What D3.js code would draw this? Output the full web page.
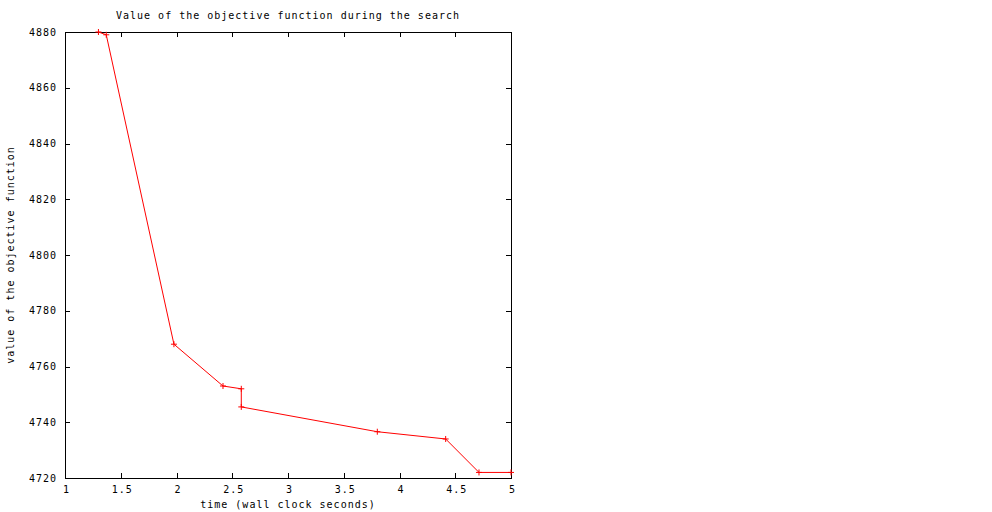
<!DOCTYPE html>
<html>
<head>
<meta charset="utf-8">
<script src="https://cdn.jsdelivr.net/npm/d3@7"></script>
<style>
  body { margin: 0; background: #fff; }
  text { font-family: "DejaVu Sans Mono", monospace; font-size: 10px; letter-spacing: 1px; fill: #000; }
  .tick line, .frame { shape-rendering: crispEdges; }
</style>
</head>
<body>
<svg id="chart" width="992" height="512"></svg>
<script>
// search progress: wall clock seconds vs objective value
const times = [1.30, 1.37, 1.977, 2.417, 2.581, 2.581, 3.801, 4.414, 4.713, 5.0];
const objValues = [4880, 4879, 4768, 4753, 4752, 4745.5, 4736.6, 4734, 4722, 4722];
const xTicks = [1, 1.5, 2, 2.5, 3, 3.5, 4, 4.5, 5];
const yTicks = [4720, 4740, 4760, 4780, 4800, 4820, 4840, 4860, 4880];

const margin = {top: 32, right: 481, bottom: 34, left: 65};
const svg = d3.select("#chart");
const width = +svg.attr("width");
const height = +svg.attr("height");

x = d3.scaleLinear().domain([1, 5]).range([margin.left, width - margin.right]);
y = d3.scaleLinear().domain([4720, 4880]).range([height - margin.bottom, margin.top]);

const tickLen = 5;

// mirrored inward ticks on all four sides
svg.append("g")
  .attr("transform", `translate(0, ${y(4720)})`)
  .call(d3.axisBottom(x).tickValues(xTicks).tickSizeInner(-tickLen).tickSizeOuter(0).tickFormat(d3.format("")))
  .call(g => g.select(".domain").remove())
  .call(g => g.selectAll("line").attr("stroke", "#000"))
  .call(g => g.selectAll("text").attr("y", 8).attr("dy", "0.71em").attr("dx", 1));

svg.append("g")
  .attr("transform", `translate(0, ${y(4880)})`)
  .call(d3.axisTop(x).tickValues(xTicks).tickSizeInner(-tickLen).tickSizeOuter(0).tickFormat(""))
  .call(g => g.select(".domain").remove())
  .call(g => g.selectAll("line").attr("stroke", "#000"));

svg.append("g")
  .attr("transform", `translate(${x(1)}, 0)`)
  .call(d3.axisLeft(y).tickValues(yTicks).tickSizeInner(-tickLen).tickSizeOuter(0).tickFormat(d3.format("d")))
  .call(g => g.select(".domain").remove())
  .call(g => g.selectAll("line").attr("stroke", "#000"))
  .call(g => g.selectAll("text").attr("x", -8).attr("text-anchor", "end"));

svg.append("g")
  .attr("transform", `translate(${x(5)}, 0)`)
  .call(d3.axisRight(y).tickValues(yTicks).tickSizeInner(-tickLen).tickSizeOuter(0).tickFormat(""))
  .call(g => g.select(".domain").remove())
  .call(g => g.selectAll("line").attr("stroke", "#000"));

// frame
svg.append("rect")
  .attr("class", "frame")
  .attr("x", x(1)).attr("y", y(4880))
  .attr("width", x(5) - x(1)).attr("height", y(4720) - y(4880))
  .attr("fill", "none").attr("stroke", "#000");

const pts = times.map((t, i) => ({t: t, v: objValues[i]}));

const line = d3.line().x(d => x(d.t)).y(d => y(d.v));
svg.append("path")
  .datum(pts)
  .attr("fill", "none")
  .attr("stroke", "#f00")
  .attr("stroke-width", 1)
  .attr("d", line);

// "+" point markers
svg.append("g")
  .selectAll("path")
  .data(pts)
  .enter().append("path")
  .attr("stroke", "#f00")
  .attr("fill", "none")
  .attr("d", d => {
    const px = x(d.t), py = y(d.v);
    return `M${px - 3},${py}H${px + 3}M${px},${py - 3}V${py + 3}`;
  });

// titles
svg.append("text")
  .attr("x", (x(1) + x(5)) / 2).attr("y", 19)
  .attr("text-anchor", "middle")
  .text("Value of the objective function during the search");

svg.append("text")
  .attr("x", (x(1) + x(5)) / 2).attr("y", 508)
  .attr("text-anchor", "middle")
  .text("time (wall clock seconds)");

svg.append("text")
  .attr("transform", `translate(14, ${(y(4720) + y(4880)) / 2}) rotate(-90)`)
  .attr("text-anchor", "middle")
  .text("value of the objective function");
</script>
</body>
</html>
